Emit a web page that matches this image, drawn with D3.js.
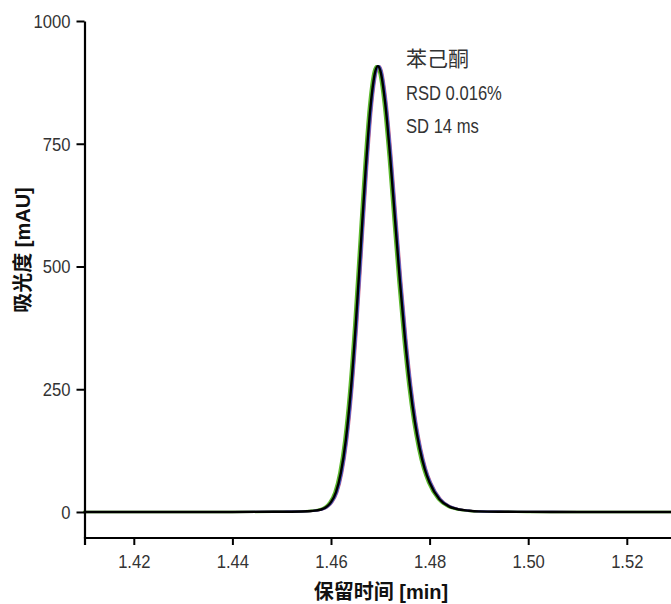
<!DOCTYPE html>
<html><head><meta charset="utf-8">
<script src="https://cdn.jsdelivr.net/npm/d3@7"></script>
<style>
html,body{margin:0;padding:0;background:#fff;}
svg{display:block;}
.tick text{font-family:"Liberation Sans",Arial,sans-serif;font-size:17.5px;fill:#333;}
</style></head>
<body>
<svg id="chart" width="671" height="604"></svg>
<script>
// Retention time profile of the acetophenone peak (reference run), min
const times = [1.410,1.420,1.430,1.440,1.450,1.454,1.456,1.458,1.460,1.461,1.462,1.463,1.464,1.465,1.466,1.467,1.468,1.469,1.4695,1.470,1.471,1.472,1.473,1.474,1.475,1.476,1.477,1.478,1.479,1.480,1.482,1.484,1.486,1.488,1.490,1.495,1.500,1.510,1.520,1.530];
// Absorbance, mAU
const absorb = [0,0,0,0,0.5,1,2,5,20,40,80,146,245,378,535,693,824,898,908,899,832,723,594,467,353,258,184,129,88,60,26,11,5,2.5,1.2,0.5,0.2,0,0,0];
// Replicate runs: retention shift relative to reference (min)
const runNames = ["green","pink","blue","black"];
const runShifts = [-0.0003, 0.0003, 0.0002, 0];
const runColors = ["#5cb82e","#d06a8c","#3f5fd0","#000000"];
const runWidths = [2.5, 2.2, 2.2, 2.4];
// Axes
const xTicks = [1.42,1.44,1.46,1.48,1.50,1.52];
const yTicks = [0,250,500,750,1000];
const xTitle = "保留时间 [min]";
const yTitle = "吸光度 [mAU]";
const notes = ["苯己酮","RSD 0.016%","SD 14 ms"];

const svg = d3.select("#chart");
const x = d3.scaleLinear().domain([1.41,1.53]).range([84.5,676.1]);
const y = d3.scaleLinear().domain([-53,1000]).range([538,21]);

const line = d3.line().curve(d3.curveMonotoneX);

runNames.forEach((n,i)=>{
  const pts = times.map((t,j)=>[x(t+runShifts[i]), y(absorb[j])]);
  svg.append("path").attr("d", line(pts))
    .attr("fill","none").attr("stroke",runColors[i])
    .attr("stroke-width",runWidths[i]).attr("stroke-linejoin","round");
});

const xAxis = svg.append("g").attr("transform","translate(0,537.5)")
  .call(d3.axisBottom(x).tickValues(xTicks).tickFormat(d3.format(".2f")).tickSize(7.5).tickSizeOuter(7.5).tickPadding(11));
const yAxis = svg.append("g").attr("transform","translate(84.5,0)")
  .call(d3.axisLeft(y).tickValues(yTicks).tickFormat(d3.format("d")).tickSize(8).tickSizeOuter(0).tickPadding(6));
[xAxis,yAxis].forEach(g=>{
  g.select(".domain").attr("stroke","#000").attr("stroke-width",2.2);
  g.selectAll(".tick line").attr("stroke","#000").attr("stroke-width",2);
});
xAxis.selectAll(".tick text").attr("transform","scale(0.95,1)");
yAxis.selectAll(".tick text").attr("dy","0.36em").attr("x",-14.7).attr("transform","scale(0.95,1)");

svg.append("text").attr("x",381).attr("y",599).attr("text-anchor","middle")
  .attr("font-family","'Liberation Sans','Noto Sans CJK SC',sans-serif")
  .attr("font-weight","bold").attr("font-size",20).attr("fill","#111").text(xTitle);
svg.append("text").attr("transform","translate(30,250) rotate(-90)").attr("text-anchor","middle")
  .attr("font-family","'Liberation Sans','Noto Sans CJK SC',sans-serif")
  .attr("font-weight","bold").attr("font-size",20).attr("fill","#111").text(yTitle);

const noteY = [66,100,133];
notes.forEach((s,i)=>{
  svg.append("text").attr("transform", i===0 ? `translate(406,${noteY[i]})` : `translate(406,${noteY[i]}) scale(0.83,1)`)
    .attr("font-family", i===0 ? "'Noto Sans CJK SC',sans-serif" : "'Liberation Sans',Arial,sans-serif")
    .attr("font-size", i===0 ? 21 : 20).attr("fill","#333").text(s);
});
</script>
</body></html>
